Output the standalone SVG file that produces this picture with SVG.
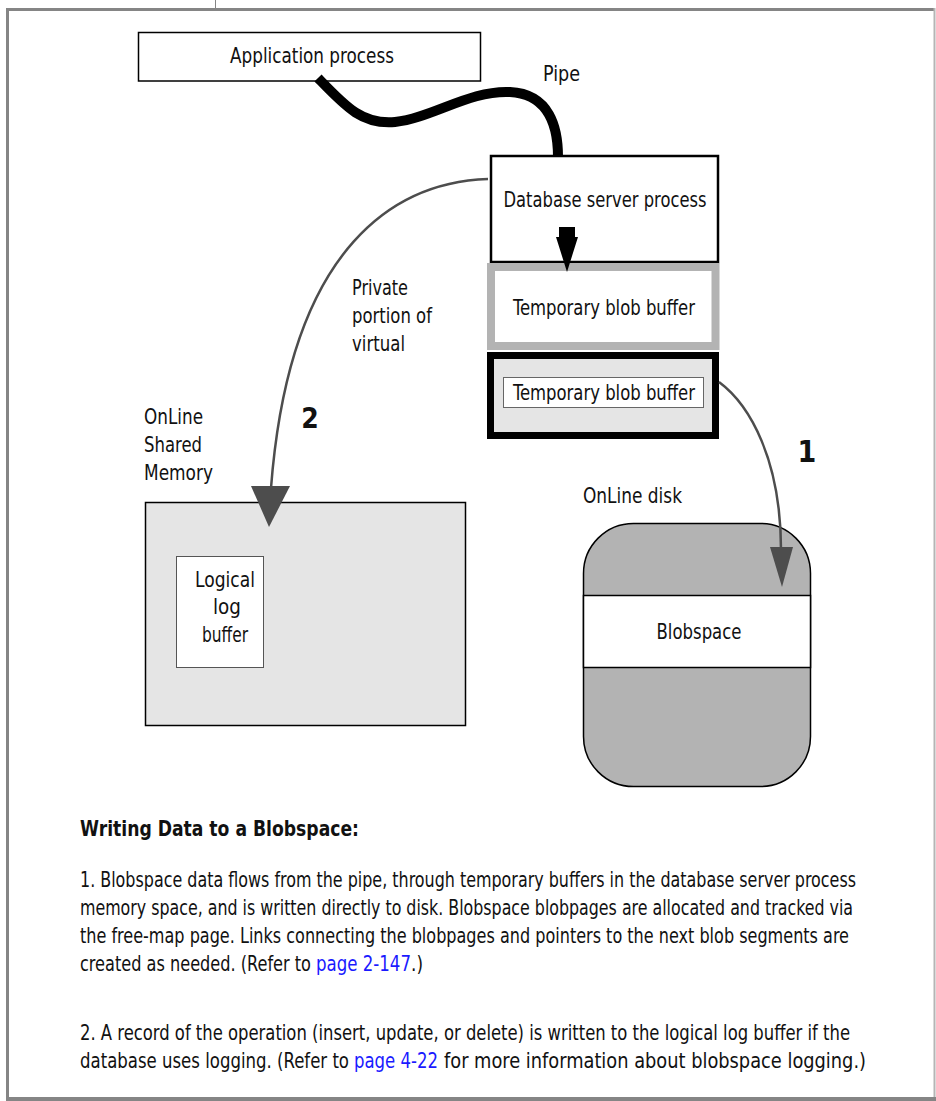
<svg xmlns="http://www.w3.org/2000/svg" width="936" height="1101" viewBox="0 0 936 1101">
<style>
text{font-family:"Liberation Sans Narrow","DejaVu Sans Condensed","Liberation Sans",sans-serif;font-size:21px;fill:#111}
.c{text-anchor:middle}
.b{font-weight:bold}
.lnk{fill:#1a1aff}
.frame{fill:none;stroke:#858585}
.gconn{fill:none;stroke:#4d4d4d;stroke-width:2.5}
.ghead{fill:#4d4d4d}
</style>
<rect x="0" y="0" width="936" height="1101" fill="#fff"/>
<g id="frame">
<line class="frame" x1="215.5" y1="0" x2="215.5" y2="9" stroke-width="1"/>
<line class="frame" x1="6" y1="9.5" x2="935" y2="9.5" stroke-width="3"/>
<line class="frame" x1="7.5" y1="8" x2="7.5" y2="1101" stroke-width="3"/>
<line x1="934.5" y1="8" x2="934.5" y2="1097" stroke="#b5b5b5" stroke-width="2"/>
<line class="frame" x1="6" y1="1099" x2="936" y2="1099" stroke-width="4"/>
</g>
<g id="app">
<rect x="138.5" y="32.5" width="342" height="48.5" fill="#fff" stroke="#000" stroke-width="1.5"/>
<text x="312" y="63" class="c" textLength="164" lengthAdjust="spacingAndGlyphs">Application process</text>
</g>
<g id="dbserver">
<rect x="491" y="156" width="227" height="106" fill="#fff" stroke="#000" stroke-width="2.5"/>
<text x="605" y="207" class="c" textLength="203" lengthAdjust="spacingAndGlyphs">Database server process</text>
</g>
<g id="tempbuf1">
<rect x="491" y="267" width="224.5" height="79" fill="#fff" stroke="#b3b3b3" stroke-width="8"/>
<text x="604" y="315" class="c" textLength="182" lengthAdjust="spacingAndGlyphs">Temporary blob buffer</text>
</g>
<g id="tempbuf2">
<rect x="490.5" y="355.5" width="225" height="80" fill="#e5e5e5" stroke="#000" stroke-width="7"/>
<rect x="503.5" y="377.5" width="200" height="30" fill="#fff" stroke="#666" stroke-width="1"/>
<text x="604" y="400" class="c" textLength="182" lengthAdjust="spacingAndGlyphs">Temporary blob buffer</text>
</g>
<g id="sharedmem">
<text x="144" y="424" textLength="59" lengthAdjust="spacingAndGlyphs">OnLine</text>
<text x="144" y="452" textLength="58" lengthAdjust="spacingAndGlyphs">Shared</text>
<text x="144" y="480" textLength="69" lengthAdjust="spacingAndGlyphs">Memory</text>
<rect x="145.5" y="502.5" width="320" height="223" fill="#e5e5e5" stroke="#000" stroke-width="1.5"/>
<rect x="176.5" y="556.5" width="87" height="111" fill="#fff" stroke="#555" stroke-width="1"/>
<text x="225" y="587" class="c" textLength="60" lengthAdjust="spacingAndGlyphs">Logical</text>
<text x="227" y="614" class="c" textLength="28" lengthAdjust="spacingAndGlyphs">log</text>
<text x="225" y="642" class="c" textLength="46" lengthAdjust="spacingAndGlyphs">buffer</text>
</g>
<g id="disk">
<text x="583" y="503" textLength="99" lengthAdjust="spacingAndGlyphs">OnLine disk</text>
<rect x="583.5" y="523.5" width="227" height="263" rx="50" ry="50" fill="#b3b3b3" stroke="#000" stroke-width="1.5"/>
<rect x="583.5" y="595.5" width="227" height="72" fill="#fff" stroke="#000" stroke-width="1.5"/>
<text x="699" y="639" class="c" textLength="85" lengthAdjust="spacingAndGlyphs">Blobspace</text>
</g>
<g id="connectors">
<path d="M318,78 C345,106 362,125 395,122 C432,118 470,90 510,92 C550,94 558,128 558,157" fill="none" stroke="#000" stroke-width="10"/>
<polygon points="559,227 575,227 575,237 578,237 567,272 556,237 559,237" fill="#000"/>
<path class="gconn" d="M488,179 C400,182 290,240 271,488"/>
<polygon class="ghead" points="251,486 290,486 269,527"/>
<path class="gconn" d="M719,382 C750,405 781,460 781,550"/>
<polygon class="ghead" points="770,547 793,547 782,587"/>
</g>
<g id="labels">
<text x="543" y="81" textLength="37" lengthAdjust="spacingAndGlyphs">Pipe</text>
<text x="352" y="295" textLength="56" lengthAdjust="spacingAndGlyphs">Private</text>
<text x="352" y="323" textLength="80" lengthAdjust="spacingAndGlyphs">portion of</text>
<text x="352" y="351" textLength="53" lengthAdjust="spacingAndGlyphs">virtual</text>
<text x="310" y="428" class="c b" style="font-size:28px">2</text>
<text x="807" y="462" class="c b" style="font-size:30px">1</text>
</g>
<g id="caption">
<text x="80" y="836" class="b" textLength="279" lengthAdjust="spacingAndGlyphs">Writing Data to a Blobspace:</text>
<text x="80" y="887" textLength="776" lengthAdjust="spacingAndGlyphs">1. Blobspace data flows from the pipe, through temporary buffers in the database server process</text>
<text x="80" y="915" textLength="773" lengthAdjust="spacingAndGlyphs">memory space, and is written directly to disk. Blobspace blobpages are allocated and tracked via</text>
<text x="80" y="943" textLength="769" lengthAdjust="spacingAndGlyphs">the free-map page. Links connecting the blobpages and pointers to the next blob segments are</text>
<text x="80" y="971" textLength="231" lengthAdjust="spacingAndGlyphs">created as needed. (Refer to</text>
<text x="316" y="971" class="lnk" textLength="95" lengthAdjust="spacingAndGlyphs">page 2-147</text>
<text x="411" y="971" textLength="12" lengthAdjust="spacingAndGlyphs">.)</text>
<text x="80" y="1040" textLength="770" lengthAdjust="spacingAndGlyphs">2. A record of the operation (insert, update, or delete) is written to the logical log buffer if the</text>
<text x="80" y="1068" textLength="269" lengthAdjust="spacingAndGlyphs">database uses logging. (Refer to</text>
<text x="354" y="1068" class="lnk" textLength="84" lengthAdjust="spacingAndGlyphs">page 4-22</text>
<text x="444" y="1068" textLength="422" lengthAdjust="spacingAndGlyphs">for more information about blobspace logging.)</text>
</g>
</svg>
